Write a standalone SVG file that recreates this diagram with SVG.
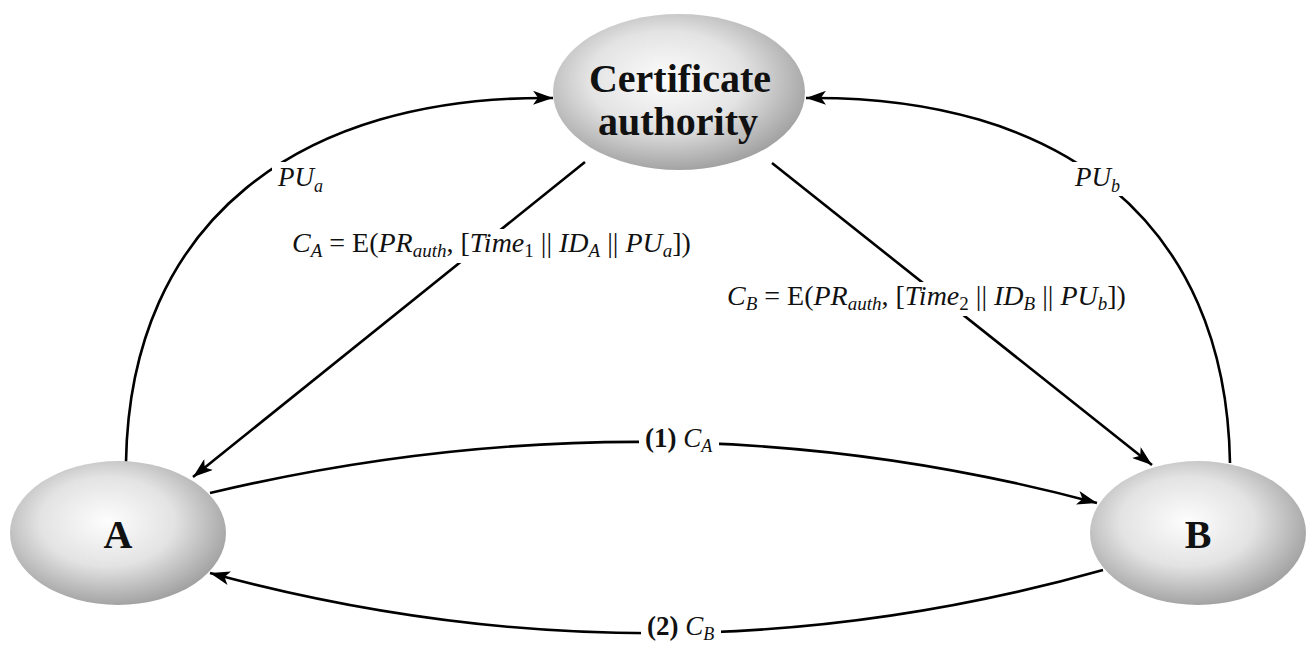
<svg xmlns="http://www.w3.org/2000/svg" width="1314" height="652" viewBox="0 0 1314 652">
<defs>
<radialGradient id="g" cx="0.45" cy="0.42" r="0.62">
<stop offset="0" stop-color="#fdfdfd"/>
<stop offset="0.5" stop-color="#e3e3e3"/>
<stop offset="1" stop-color="#9a9a9a"/>
</radialGradient>
<marker id="ah" markerUnits="userSpaceOnUse" markerWidth="22" markerHeight="14" refX="20" refY="7" orient="auto">
<path d="M0,0 L20,7 L0,14 L5,7 Z" fill="#000"/>
</marker>
<style>
.node{fill:url(#g);stroke:none}
.nt{font-family:"Liberation Serif","Times New Roman",serif;font-weight:bold;font-size:40px;fill:#111;text-anchor:middle}
.c{fill:none;stroke:#000;stroke-width:2.6;marker-end:url(#ah)}
.bg{fill:#fff}
.lb{font-family:"Liberation Serif","Times New Roman",serif;font-size:27px;fill:#111}
.f{font-size:28px}
.i{font-style:italic}
.s{font-size:18px}
.f .s{font-size:19px}
.b{font-weight:bold}
</style>
</defs>
<g id="connectors">
<path class="c" d="M126,462 C130,220 300,95 553,98"/>
<path class="c" d="M1230,463 C1226,220 1060,95 806,98"/>
<path class="c" d="M585,162 L193,477"/>
<path class="c" d="M772,163 L1152,465"/>
<path class="c" d="M210,493 Q660,386 1097,503"/>
<path class="c" d="M1103,570 Q660,695 210,573"/>
</g>
<g id="labels">
<rect class="bg" x="272" y="162" width="50" height="34"/>
<text class="lb" x="278" y="186"><tspan class="i">PU</tspan><tspan class="i s" dy="6">a</tspan></text>
<rect class="bg" x="1070" y="162" width="52" height="34"/>
<text class="lb" x="1075" y="186"><tspan class="i">PU</tspan><tspan class="i s" dy="6">b</tspan></text>
<rect class="bg" x="286" y="229" width="424" height="34"/>
<text class="lb f" x="292" y="252"><tspan class="i">C</tspan><tspan class="i s" dy="5">A</tspan><tspan dy="-5"> = E(</tspan><tspan class="i">PR</tspan><tspan class="i s" dy="5">auth</tspan><tspan dy="-5">, [</tspan><tspan class="i">Time</tspan><tspan class="s" dy="5">1</tspan><tspan dy="-5"> || </tspan><tspan class="i">ID</tspan><tspan class="i s" dy="5">A</tspan><tspan dy="-5"> || </tspan><tspan class="i">PU</tspan><tspan class="i s" dy="5">a</tspan><tspan dy="-5">])</tspan></text>
<rect class="bg" x="721" y="282" width="412" height="34"/>
<text class="lb f" x="727" y="305"><tspan class="i">C</tspan><tspan class="i s" dy="5">B</tspan><tspan dy="-5"> = E(</tspan><tspan class="i">PR</tspan><tspan class="i s" dy="5">auth</tspan><tspan dy="-5">, [</tspan><tspan class="i">Time</tspan><tspan class="s" dy="5">2</tspan><tspan dy="-5"> || </tspan><tspan class="i">ID</tspan><tspan class="i s" dy="5">B</tspan><tspan dy="-5"> || </tspan><tspan class="i">PU</tspan><tspan class="i s" dy="5">b</tspan><tspan dy="-5">])</tspan></text>
<rect class="bg" x="639" y="424" width="80" height="30"/>
<text class="lb" x="645" y="447"><tspan class="b">(1)</tspan> <tspan class="i">C</tspan><tspan class="i s" dy="5">A</tspan></text>
<rect class="bg" x="641" y="612" width="80" height="30"/>
<text class="lb" x="647" y="635"><tspan class="b">(2)</tspan> <tspan class="i">C</tspan><tspan class="i s" dy="5">B</tspan></text>
</g>
<g id="ca">
<ellipse class="node" cx="679" cy="92" rx="126" ry="78"/>
<text class="nt" x="680" y="92">Certificate</text>
<text class="nt" x="678" y="135">authority</text>
</g>
<g id="a">
<ellipse class="node" cx="118" cy="533" rx="108" ry="72"/>
<text class="nt" x="118" y="548">A</text>
</g>
<g id="b">
<ellipse class="node" cx="1198" cy="533" rx="108" ry="72"/>
<text class="nt" x="1198" y="548">B</text>
</g>
</svg>
